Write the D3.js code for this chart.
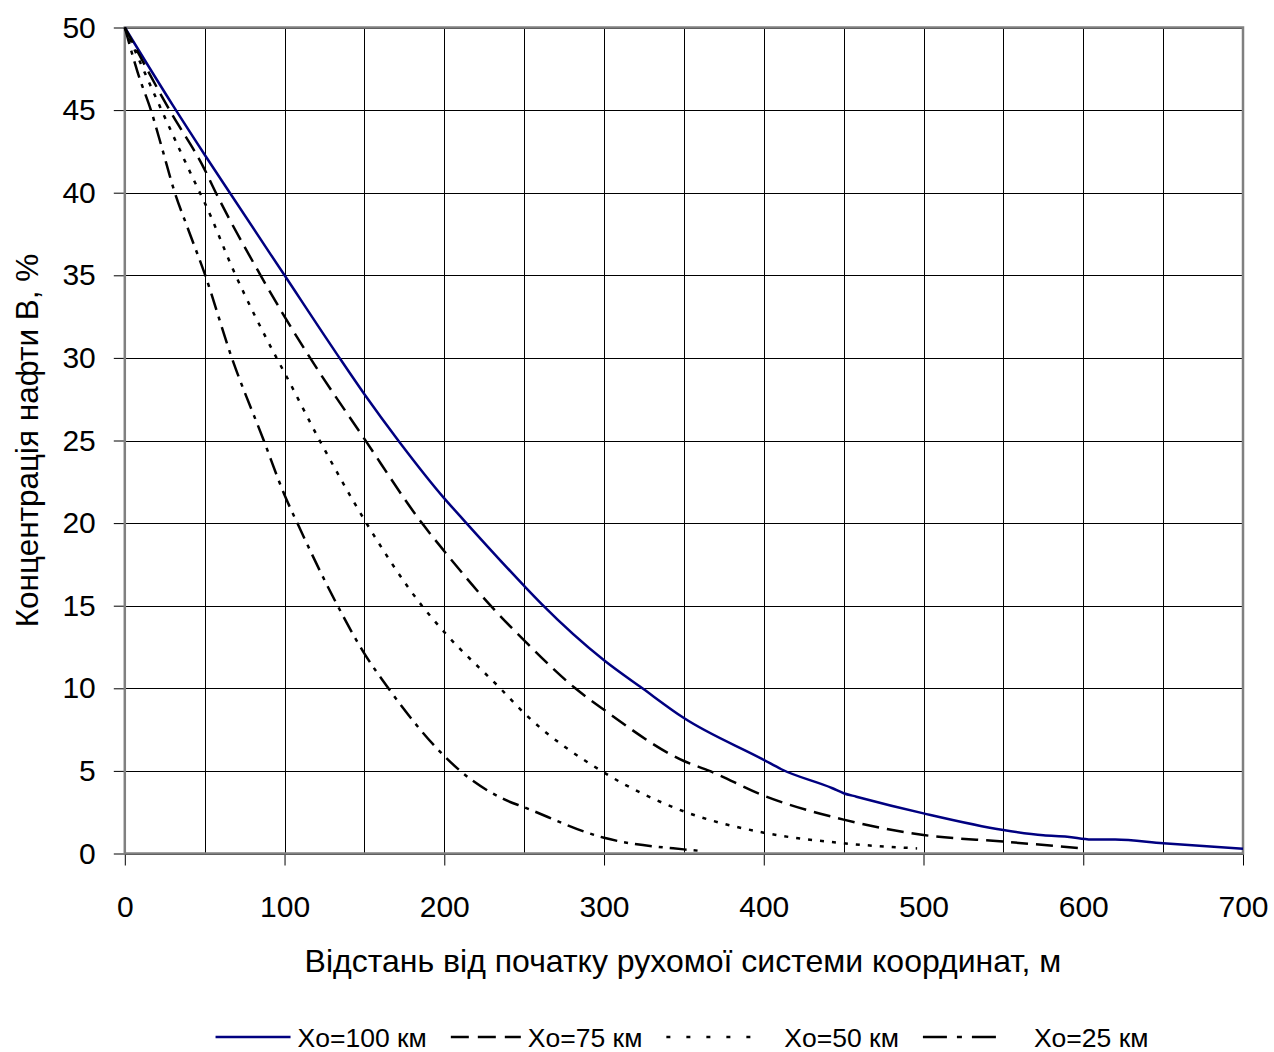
<!DOCTYPE html>
<html>
<head>
<meta charset="utf-8">
<script src="https://cdn.jsdelivr.net/npm/d3@7"></script>
<style>
    body { margin: 0; background: white; }
    svg { display: block; font-family: 'Liberation Sans', Arial, sans-serif; }
</style>
</head>
<body>
<svg id="chart" width="1274" height="1052"></svg>
<script>
// Distance from the origin of the moving coordinate system, m, and oil B concentration, %.
var xo100X = [0, 30, 50, 65, 100, 133, 150, 172, 200, 212, 250, 261, 300, 324, 350, 400, 411, 443, 450, 458, 500, 550, 575, 590, 605, 620, 650, 700];
var xo100C = [50, 45.3, 42.3, 40.1, 35, 30.2, 27.8, 24.9, 21.5, 20.2, 16.2, 15.1, 11.7, 10, 8.2, 5.67, 5.1, 3.95, 3.65, 3.44, 2.43, 1.42, 1.1, 1.02, 0.85, 0.84, 0.62, 0.29];

var xo75X = [0, 28, 50, 57, 85, 100, 116, 150, 186, 200, 229, 250, 282, 300, 350, 366, 400, 450, 500, 550, 600];
var xo75C = [50, 45, 41.4, 40, 35, 32.5, 30, 25.1, 20, 18.3, 15, 12.9, 10, 8.7, 5.6, 5, 3.5, 2.05, 1.12, 0.72, 0.31];

var xo50X = [0, 23, 47, 50, 68, 95, 100, 122, 150, 186, 200, 235, 250, 300, 350, 400, 450, 496];
var xo50C = [50, 45, 40, 39.4, 35.3, 30, 29.1, 25, 20.2, 15, 13.4, 10, 8.5, 4.9, 2.55, 1.26, 0.62, 0.31];

var xo25X = [0, 8, 17, 23, 31, 40, 50, 67, 87, 100, 108, 130, 150, 165, 200, 210, 237, 250, 300, 350, 359];
var xo25C = [50, 47.3, 44.8, 42.8, 40.1, 37.7, 35.1, 30, 25, 21.7, 20, 15.6, 12.1, 10, 5.9, 5, 3.3, 2.8, 0.95, 0.25, 0.17];

var seriesNames = ['Xo=100 км', 'Xo=75 км', 'Xo=50 км', 'Xo=25 км'];
var xTicks = [0, 100, 200, 300, 400, 500, 600, 700];
var yTicks = [0, 5, 10, 15, 20, 25, 30, 35, 40, 45, 50];
var xGrid = [0, 50, 100, 150, 200, 250, 300, 350, 400, 450, 500, 550, 600, 650, 700];

var xTitle = 'Відстань від початку рухомої системи координат, м';
var yTitle = 'Концентрація нафти В, %';

// Line styles for each series, in legend order (legend samples use a looser pattern).
var seriesStyles = [
    { color: '#000080', dash: null, legendDash: null, sample: 75, textGap: 7 },
    { color: '#000000', dash: '17,8', legendDash: '18,9', sample: 70, textGap: 7 },
    { color: '#000000', dash: '4,8', legendDash: '4,16', sample: 96, textGap: 22 },
    { color: '#000000', dash: '17,7,4,7', legendDash: '24,10,5,10', sample: 83, textGap: 28 }
];

var plot = { left: 124.8, right: 1243, top: 27.5, bottom: 853.5 };

var svg = d3.select('#chart');

var x = d3.scaleLinear().domain([0, 700]).range([plot.left, plot.right]);
var y = d3.scaleLinear().domain([0, 50]).range([plot.bottom, plot.top]);

// Grid lines, vertical every 50 m and horizontal every 5 %.
var grid = svg.append('g').attr('class', 'grid')
    .attr('stroke', '#000').attr('stroke-width', 1);
grid.selectAll('.vline').data(xGrid).enter().append('line')
    .attr('x1', function(d) { return Math.round(x(d)) + 0.5; })
    .attr('x2', function(d) { return Math.round(x(d)) + 0.5; })
    .attr('y1', plot.top).attr('y2', plot.bottom);
grid.selectAll('.hline').data(yTicks).enter().append('line')
    .attr('y1', function(d) { return Math.round(y(d)) + 0.5; })
    .attr('y2', function(d) { return Math.round(y(d)) + 0.5; })
    .attr('x1', plot.left).attr('x2', plot.right);

// Axes with outside ticks only, the frame is drawn separately.
var xAxis = svg.append('g')
    .attr('transform', 'translate(0,' + plot.bottom + ')')
    .call(d3.axisBottom(x).tickValues(xTicks).tickSize(12).tickPadding(30).tickFormat(d3.format('d')));
var yAxis = svg.append('g')
    .attr('transform', 'translate(' + plot.left + ',0)')
    .call(d3.axisLeft(y).tickValues(yTicks).tickSize(11).tickPadding(18).tickFormat(d3.format('d')));
[xAxis, yAxis].forEach(function(a) {
    a.select('.domain').remove();
    a.selectAll('line').attr('stroke', '#000');
    a.selectAll('text').attr('fill', '#000')
        .style('font-size', '30px').style('font-family', "'Liberation Sans', Arial, sans-serif");
});

// Plot frame.
svg.append('rect')
    .attr('x', plot.left).attr('y', plot.top)
    .attr('width', plot.right - plot.left).attr('height', plot.bottom - plot.top)
    .attr('fill', 'none').attr('stroke', '#808080').attr('stroke-width', 2.5);

// Curves.
var series = [
    d3.zip(xo100X, xo100C),
    d3.zip(xo75X, xo75C),
    d3.zip(xo50X, xo50C),
    d3.zip(xo25X, xo25C)
];
var line = d3.line()
    .x(function(d) { return x(d[0]); })
    .y(function(d) { return y(d[1]); })
    .curve(d3.curveMonotoneX);
svg.selectAll('.curve').data(series).enter().append('path')
    .attr('class', 'curve')
    .attr('d', line)
    .attr('fill', 'none')
    .attr('stroke', function(d, i) { return seriesStyles[i].color; })
    .attr('stroke-width', 2.5)
    .attr('stroke-dasharray', function(d, i) { return seriesStyles[i].dash; });

// Axis titles.
svg.append('text')
    .attr('x', (plot.left + plot.right) / 2 - 1).attr('y', 972)
    .attr('text-anchor', 'middle')
    .style('font-size', '32px')
    .text(xTitle);
svg.append('text')
    .attr('transform', 'translate(38,' + (plot.top + plot.bottom) / 2 + ') rotate(-90)')
    .attr('text-anchor', 'middle')
    .style('font-size', '31.5px')
    .text(yTitle);

// Legend: sample line then label, centred under the plot.
var legend = svg.append('g').attr('class', 'legend');
var itemGap = 24, offset = 0;
seriesNames.forEach(function(name, i) {
    var st = seriesStyles[i];
    var item = legend.append('g').attr('transform', 'translate(' + offset + ',0)');
    item.append('line')
        .attr('x1', 0).attr('x2', st.sample).attr('y1', -10).attr('y2', -10)
        .attr('stroke', st.color).attr('stroke-width', 2.5)
        .attr('stroke-dasharray', st.legendDash);
    var t = item.append('text')
        .attr('x', st.sample + st.textGap).attr('y', 0)
        .style('font-size', '26.5px')
        .text(name);
    offset += st.sample + st.textGap + t.node().getComputedTextLength() + itemGap;
});
offset -= itemGap;
legend.attr('transform', 'translate(' + (682 - offset / 2) + ',1047)');
</script>
</body>
</html>
